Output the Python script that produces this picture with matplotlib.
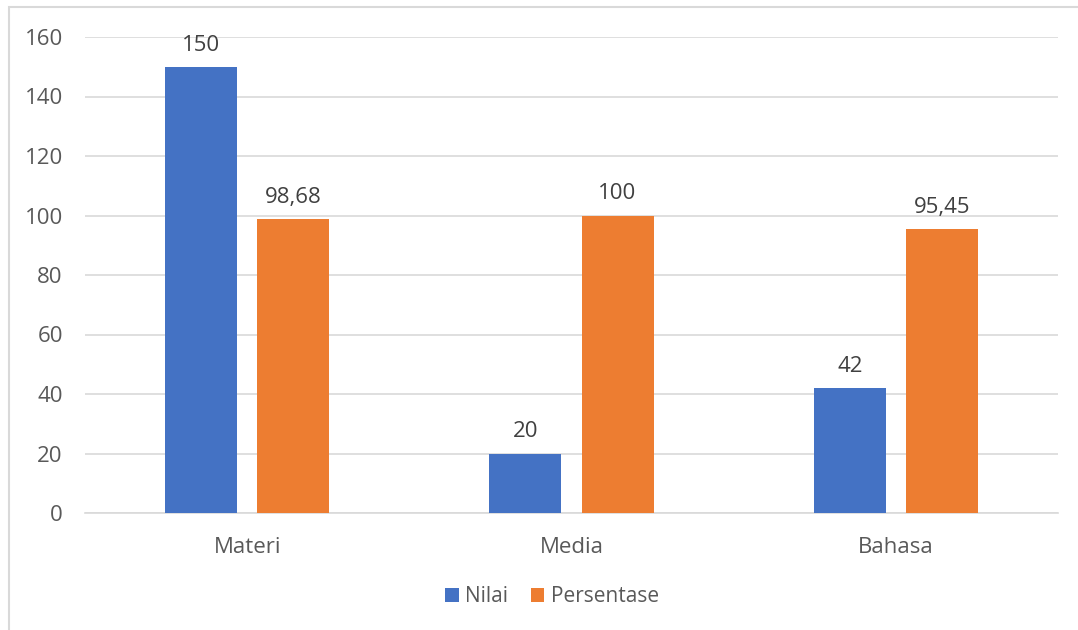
import matplotlib
matplotlib.use("Agg")
import matplotlib.pyplot as plt
from matplotlib.patches import Rectangle
import numpy as np

categories = ["Materi", "Media", "Bahasa"]
nilai = [150, 20, 42]
persentase = [98.68, 100, 95.45]
series_names = ["Nilai", "Persentase"]
y_ticks = [0, 20, 40, 60, 80, 100, 120, 140, 160]

BLUE = "#4472C4"
ORANGE = "#ED7D31"
TEXT = "#595959"
GRID = "#D9D9D9"
FS = 16

plt.rcParams["font.family"] = ["Open Sans", "DejaVu Sans"]

fig = plt.figure(figsize=(10.78, 6.3), dpi=100)
ax = fig.add_axes([85 / 1078, 1 - 513 / 630, (1058 - 85) / 1078, (513 - 37) / 630])

# chart frame (light gray outline)
fig.patches.append(Rectangle((8.5 / 1078, -0.1), 1.2, 1 - 7.5 / 630 + 0.1,
                             transform=fig.transFigure, fill=False,
                             edgecolor=GRID, linewidth=1.5))

x = np.arange(len(categories))
w = 0.222
off = 0.142
b1 = ax.bar(x - off, nilai, w, color=BLUE, label=series_names[0], zorder=3)
b2 = ax.bar(x + off, persentase, w, color=ORANGE, label=series_names[1], zorder=3)


def fmt(v):
    s = f"{v:g}"
    return s.replace(".", ",")


for bars, vals in ((b1, nilai), (b2, persentase)):
    for rect, v in zip(bars, vals):
        ax.annotate(fmt(v), (rect.get_x() + rect.get_width() / 2, v),
                    xytext=(0, 8), textcoords="offset points",
                    ha="center", va="bottom", fontsize=FS, color="#404040")

ax.set_xlim(-0.5, len(categories) - 0.5)
ax.set_ylim(0, 160)
ax.set_yticks(y_ticks)
ax.set_xticks(x)
ax.set_xticklabels(categories)
ax.tick_params(axis="both", length=0, labelsize=FS, labelcolor=TEXT)
ax.tick_params(axis="y", pad=16)
ax.tick_params(axis="x", pad=17)
ax.yaxis.grid(True, color=GRID, linewidth=1.2, zorder=0)
for side in ("top", "right", "left"):
    ax.spines[side].set_visible(False)
ax.spines["bottom"].set_color(GRID)
ax.spines["bottom"].set_linewidth(1.2)

leg = fig.legend(loc="center", bbox_to_anchor=(552 / 1078, 1 - 597 / 630),
                 ncol=2, frameon=False, fontsize=15, handlelength=0.65,
                 handleheight=0.65, handletextpad=0.3, columnspacing=1.1)
for t in leg.get_texts():
    t.set_color(TEXT)

fig.savefig("out.png", dpi=100)
